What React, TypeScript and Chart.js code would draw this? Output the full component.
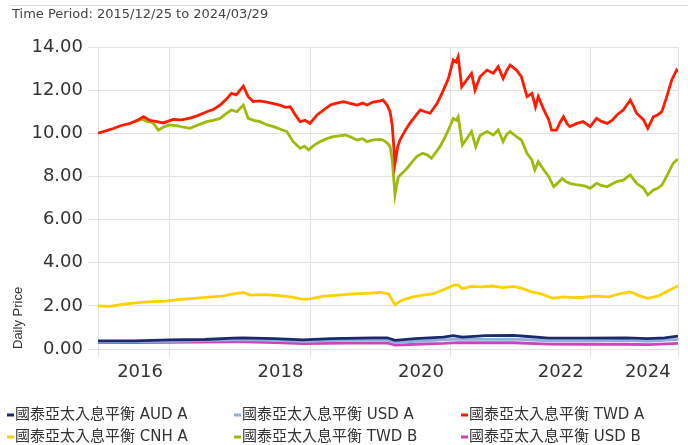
import React, { useEffect, useRef } from 'react';
import { Chart, registerables } from 'chart.js';

Chart.register(...registerables);

const titleText = 'Time Period: 2015/12/25 to 2024/03/29';
const yAxisTitle = 'Daily Price';
const xStart = 2015.981;
const xEnd = 2024.24;
const yTicks = [0, 2, 4, 6, 8, 10, 12, 14];
const xGridYears = [xStart, 2017, 2019, 2021, 2023, xEnd];
const xLabelText = ['2016', '2018', '2020', '2022', '2024'];
const xLabelPos = [2016.58, 2018.58, 2020.58, 2022.57, 2023.81];

const seriesNames = [
  '國泰亞太入息平衡 AUD A',
  '國泰亞太入息平衡 USD A',
  '國泰亞太入息平衡 TWD A',
  '國泰亞太入息平衡 CNH A',
  '國泰亞太入息平衡 TWD B',
  '國泰亞太入息平衡 USD B',
];
const seriesColors = ['#1c2a6b', '#8eafdc', '#ff1a00', '#ffd000', '#9dbb0a', '#cc44bb'];

const audAX = [2015.98, 2016.5, 2017.0, 2017.5, 2017.9, 2018.05, 2018.5, 2018.9, 2019.3, 2019.9, 2020.1, 2020.21, 2020.5, 2020.9, 2021.04, 2021.17, 2021.5, 2021.9, 2022.1, 2022.4, 2022.9, 2023.5, 2023.81, 2024.05, 2024.24];
const audAY = [0.38, 0.38, 0.42, 0.44, 0.5, 0.52, 0.48, 0.42, 0.48, 0.52, 0.52, 0.4, 0.48, 0.55, 0.62, 0.55, 0.62, 0.63, 0.58, 0.5, 0.5, 0.52, 0.48, 0.52, 0.6];

const usdAX = [2015.98, 2016.5, 2017.0, 2017.9, 2018.05, 2018.5, 2018.9, 2019.5, 2020.1, 2020.21, 2020.5, 2020.9, 2021.1, 2021.5, 2021.9, 2022.4, 2022.9, 2023.5, 2023.81, 2024.24];
const usdAY = [0.33, 0.34, 0.36, 0.42, 0.43, 0.4, 0.35, 0.4, 0.42, 0.3, 0.36, 0.42, 0.46, 0.45, 0.46, 0.38, 0.38, 0.4, 0.36, 0.45];

const twdAX = [2015.98, 2016.08, 2016.2, 2016.3, 2016.44, 2016.55, 2016.63, 2016.72, 2016.82, 2016.91, 2017.05, 2017.17, 2017.29, 2017.4, 2017.53, 2017.62, 2017.72, 2017.8, 2017.88, 2017.95, 2018.05, 2018.12, 2018.19, 2018.28, 2018.38, 2018.48, 2018.57, 2018.65, 2018.72, 2018.79, 2018.86, 2018.93, 2019.0, 2019.1, 2019.2, 2019.29, 2019.38, 2019.48, 2019.57, 2019.67, 2019.75, 2019.81, 2019.9, 2020.0, 2020.04, 2020.1, 2020.14, 2020.17, 2020.21, 2020.25, 2020.28, 2020.35, 2020.42, 2020.5, 2020.57, 2020.64, 2020.71, 2020.81, 2020.9, 2020.97, 2021.04, 2021.08, 2021.11, 2021.16, 2021.23, 2021.3, 2021.35, 2021.42, 2021.52, 2021.61, 2021.68, 2021.75, 2021.8, 2021.85, 2021.94, 2022.01, 2022.09, 2022.16, 2022.21, 2022.25, 2022.33, 2022.4, 2022.44, 2022.51, 2022.56, 2022.61, 2022.66, 2022.7, 2022.8, 2022.89, 2022.99, 2023.08, 2023.15, 2023.23, 2023.3, 2023.37, 2023.46, 2023.56, 2023.6, 2023.65, 2023.75, 2023.81, 2023.89, 2023.95, 2024.01, 2024.08, 2024.15, 2024.22, 2024.24];
const twdAY = [10.0, 10.1, 10.22, 10.35, 10.46, 10.62, 10.77, 10.6, 10.54, 10.48, 10.64, 10.62, 10.7, 10.82, 11.0, 11.1, 11.31, 11.55, 11.85, 11.78, 12.19, 11.7, 11.47, 11.5, 11.45, 11.38, 11.31, 11.2, 11.23, 10.85, 10.54, 10.6, 10.46, 10.85, 11.1, 11.31, 11.4, 11.47, 11.39, 11.31, 11.4, 11.31, 11.45, 11.5, 11.54, 11.3, 11.0, 10.4, 8.6, 9.4, 9.69, 10.1, 10.46, 10.8, 11.08, 11.0, 10.93, 11.39, 12.0, 12.54, 13.4, 13.3, 13.55, 12.16, 12.47, 12.78, 12.0, 12.62, 12.93, 12.78, 13.09, 12.54, 12.9, 13.16, 12.93, 12.62, 11.7, 11.85, 11.23, 11.7, 11.08, 10.62, 10.15, 10.15, 10.5, 10.77, 10.45, 10.31, 10.46, 10.54, 10.31, 10.69, 10.55, 10.46, 10.6, 10.85, 11.08, 11.54, 11.3, 10.93, 10.62, 10.23, 10.77, 10.85, 11.0, 11.7, 12.47, 12.93, 12.85];

const cnhAX = [2015.98, 2016.15, 2016.35, 2016.55, 2016.75, 2016.95, 2017.15, 2017.35, 2017.55, 2017.75, 2017.9, 2018.05, 2018.15, 2018.35, 2018.55, 2018.75, 2018.9, 2019.0, 2019.2, 2019.4, 2019.6, 2019.8, 2020.0, 2020.12, 2020.21, 2020.3, 2020.45, 2020.6, 2020.75, 2020.9, 2021.04, 2021.11, 2021.17, 2021.3, 2021.45, 2021.6, 2021.75, 2021.9, 2022.01, 2022.15, 2022.3, 2022.45, 2022.6, 2022.75, 2022.9, 2023.05, 2023.25, 2023.4, 2023.56, 2023.7, 2023.81, 2023.95, 2024.1, 2024.24];
const cnhAY = [2.0, 1.98, 2.08, 2.15, 2.2, 2.22, 2.3, 2.35, 2.4, 2.45, 2.55, 2.62, 2.5, 2.52, 2.48, 2.4, 2.3, 2.32, 2.45, 2.5, 2.55, 2.58, 2.62, 2.55, 2.05, 2.25, 2.4, 2.5, 2.55, 2.75, 2.95, 2.97, 2.8, 2.9, 2.88, 2.92, 2.85, 2.9, 2.82, 2.65, 2.55, 2.35, 2.42, 2.38, 2.4, 2.45, 2.42, 2.55, 2.65, 2.45, 2.35, 2.45, 2.7, 2.92];

const twdBX = [2016.51, 2016.6, 2016.68, 2016.76, 2016.84, 2016.92, 2017.0, 2017.1, 2017.2, 2017.29, 2017.4, 2017.53, 2017.62, 2017.72, 2017.8, 2017.88, 2017.96, 2018.05, 2018.12, 2018.2, 2018.29, 2018.38, 2018.48, 2018.57, 2018.67, 2018.76, 2018.86, 2018.92, 2018.98, 2019.06, 2019.14, 2019.24, 2019.33, 2019.42, 2019.5, 2019.57, 2019.67, 2019.75, 2019.81, 2019.9, 2020.0, 2020.04, 2020.1, 2020.14, 2020.17, 2020.21, 2020.24, 2020.26, 2020.33, 2020.4, 2020.46, 2020.52, 2020.6, 2020.67, 2020.73, 2020.8, 2020.85, 2020.92, 2020.97, 2021.04, 2021.08, 2021.11, 2021.17, 2021.25, 2021.3, 2021.36, 2021.42, 2021.52, 2021.61, 2021.68, 2021.75, 2021.8, 2021.85, 2021.94, 2022.01, 2022.09, 2022.16, 2022.2, 2022.25, 2022.33, 2022.4, 2022.47, 2022.53, 2022.59, 2022.65, 2022.7, 2022.78, 2022.84, 2022.92, 2022.99, 2023.08, 2023.15, 2023.23, 2023.3, 2023.37, 2023.46, 2023.56, 2023.6, 2023.65, 2023.75, 2023.81, 2023.89, 2023.95, 2024.01, 2024.1, 2024.17, 2024.22, 2024.24];
const twdBY = [10.55, 10.65, 10.55, 10.5, 10.15, 10.3, 10.39, 10.35, 10.28, 10.23, 10.38, 10.54, 10.6, 10.69, 10.9, 11.08, 11.0, 11.31, 10.69, 10.6, 10.54, 10.4, 10.31, 10.2, 10.08, 9.61, 9.3, 9.4, 9.23, 9.45, 9.61, 9.75, 9.84, 9.88, 9.92, 9.84, 9.69, 9.75, 9.61, 9.69, 9.72, 9.69, 9.55, 9.38, 8.8, 7.15, 7.7, 7.99, 8.2, 8.45, 8.7, 8.92, 9.07, 9.0, 8.84, 9.15, 9.38, 9.8, 10.15, 10.69, 10.6, 10.77, 9.46, 9.84, 10.08, 9.38, 9.9, 10.08, 9.92, 10.15, 9.61, 9.95, 10.08, 9.84, 9.69, 9.07, 8.76, 8.3, 8.68, 8.3, 7.99, 7.52, 7.7, 7.91, 7.75, 7.68, 7.62, 7.6, 7.55, 7.45, 7.68, 7.58, 7.52, 7.65, 7.76, 7.83, 8.07, 7.9, 7.68, 7.45, 7.14, 7.37, 7.45, 7.6, 8.14, 8.6, 8.76, 8.8];

const usdBX = [2015.98, 2016.5, 2017.0, 2017.9, 2018.05, 2018.5, 2018.9, 2019.5, 2020.1, 2020.21, 2020.5, 2020.9, 2021.1, 2021.5, 2021.9, 2022.4, 2022.9, 2023.5, 2023.81, 2024.24];
const usdBY = [0.3, 0.3, 0.31, 0.33, 0.33, 0.3, 0.25, 0.27, 0.28, 0.18, 0.22, 0.26, 0.3, 0.29, 0.29, 0.23, 0.22, 0.22, 0.2, 0.26];

const seriesX = [audAX, usdAX, twdAX, cnhAX, twdBX, usdBX];
const seriesY = [audAY, usdAY, twdAY, cnhAY, twdBY, usdBY];

const mainFont = "'DejaVu Sans', 'Noto Sans CJK TC', sans-serif";

const frameAndLegend = {
  id: 'frameAndLegend',
  afterDraw(chart: any) {
    const ctx = chart.ctx;
    ctx.save();
    ctx.strokeStyle = '#dddddd';
    ctx.lineWidth = 1;
    ctx.beginPath();
    ctx.moveTo(10, 5.5);
    ctx.lineTo(chart.width, 5.5);
    ctx.stroke();
    ctx.fillStyle = '#444444';
    ctx.font = `13px ${mainFont}`;
    ctx.textBaseline = 'middle';
    ctx.textAlign = 'left';
    ctx.fillText(titleText, 12, 15);

    ctx.font = `15px ${mainFont}`;
    chart.data.datasets.forEach((ds: any, i: number) => {
      const col = i % 3;
      const row = Math.floor(i / 3);
      const x = 7 + col * 227;
      const y = 415 + row * 22;
      ctx.fillStyle = ds.borderColor;
      ctx.fillRect(x, y - 1.5, 7, 3);
      ctx.fillStyle = '#333333';
      ctx.fillText(ds.label, x + 8, y);
    });
    ctx.restore();
  },
};

export default function App() {
  const ref = useRef<HTMLCanvasElement>(null);
  useEffect(() => {
    if (!ref.current) return;
    const labelMap = new Map<number, string>();
    xLabelPos.forEach((p, i) => labelMap.set(p, xLabelText[i]));
    const allTicks = [...xGridYears, ...xLabelPos].sort((a, b) => a - b);
    const datasets = seriesNames.map((name, i) => ({
      label: name,
      data: seriesX[i].map((x, j) => ({ x, y: seriesY[i][j] })),
      borderColor: seriesColors[i],
      backgroundColor: seriesColors[i],
      borderWidth: 2.8,
      pointRadius: 0,
      tension: 0,
      fill: false,
    }));
    const chart = new Chart(ref.current, {
      type: 'line',
      data: { datasets },
      plugins: [frameAndLegend],
      options: {
        animation: false,
        responsive: false,
        layout: { padding: { left: 0, right: 10, top: 47, bottom: 56 } },
        plugins: {
          legend: { display: false },
          title: { display: false },
          tooltip: { enabled: false },
        },
        scales: {
          x: {
            type: 'linear',
            min: xStart,
            max: xEnd,
            afterBuildTicks: (scale: any) => {
              scale.ticks = allTicks.map((v) => ({ value: v }));
            },
            afterFit: (scale: any) => {
              scale.height = 40;
            },
            border: { display: false },
            grid: {
              color: (c: any) => (c.tick && labelMap.has(c.tick.value) ? 'rgba(0,0,0,0)' : '#e2e2e2'),
              lineWidth: 1,
              tickLength: 8,
            },
            ticks: {
              autoSkip: false,
              maxRotation: 0,
              minRotation: 0,
              padding: 5,
              color: '#333333',
              font: { family: mainFont, size: 18 },
              callback: (v: any) => labelMap.get(v) ?? '',
            },
          },
          y: {
            type: 'linear',
            min: 0,
            max: 14,
            afterBuildTicks: (scale: any) => {
              scale.ticks = yTicks.map((v) => ({ value: v }));
            },
            afterFit: (scale: any) => {
              scale.width = 98;
            },
            border: { display: false },
            grid: { color: '#e2e2e2', lineWidth: 1, tickLength: 10 },
            ticks: {
              padding: 5,
              color: '#333333',
              font: { family: mainFont, size: 18 },
              callback: (v: any) => Number(v).toFixed(2),
            },
            title: {
              display: true,
              text: yAxisTitle,
              align: 'start',
              color: '#333333',
              padding: { top: 11, bottom: 0 },
              font: { family: "'Liberation Sans', Arial, sans-serif", size: 13 },
            },
          },
        },
      },
    } as any);
    return () => chart.destroy();
  }, []);
  return (
    <div style={{ position: 'fixed', left: 0, top: 0, width: 688, height: 445, background: '#fff' }}>
      <canvas ref={ref} width={688} height={445} style={{ display: 'block' }} />
    </div>
  );
}
